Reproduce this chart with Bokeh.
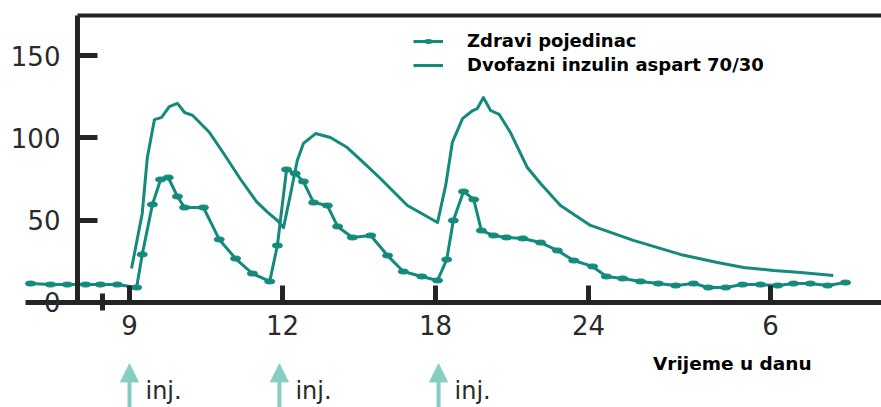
from bokeh.plotting import figure
from bokeh.models import (LinearAxis, FixedTicker, Range1d, Legend, LegendItem,
                          Arrow, NormalHead, Label)
from bokeh.embed import file_html
from bokeh.resources import INLINE

# ---- data (x = position along the drawn time axis, y = plasma insulin level) ----
healthy_x = [7.06, 7.45, 7.78, 8.14, 8.43, 8.76, 9.14,
             9.25, 9.45, 9.61, 9.76, 9.94, 10.08, 10.45, 10.76, 11.08, 11.41, 11.75,
             11.90, 12.08, 12.25, 12.41, 12.61, 12.88, 13.08, 13.37, 13.73, 14.06, 14.37, 14.73, 15.04,
             15.22, 15.35, 15.55, 15.75, 15.90, 16.14, 16.39, 16.71, 17.06, 17.39, 17.71, 18.08,
             18.35, 18.67, 19.02, 19.37, 19.71, 20.06, 20.35, 20.69, 21.02, 21.37, 21.71, 22.02,
             22.35, 22.69, 23.04]
healthy_y = [11.5, 10.9, 10.9, 10.9, 10.9, 10.9, 9.1,
             29.2, 59.5, 74.7, 75.9, 64.4, 57.7, 57.7, 38.3, 26.7, 17.6, 12.8,
             34.6, 80.8, 78.3, 73.5, 60.7, 58.9, 46.2, 39.5, 40.7, 28.5, 18.8, 15.8, 13.4,
             26.1, 49.8, 67.4, 62.6, 43.7, 40.7, 39.5, 38.9, 36.4, 31.6, 25.5, 21.9,
             15.8, 14.6, 12.8, 11.5, 10.3, 11.5, 9.1, 9.1, 10.9, 10.9, 10.3, 11.5,
             11.5, 10.3, 12.1]

insulin_x = [9.04, 9.25, 9.35, 9.49, 9.63, 9.78, 9.94, 10.08, 10.24, 10.57, 10.86, 11.18,
             11.49, 11.71, 11.90, 12.02, 12.16, 12.29, 12.41, 12.65, 12.94, 13.27, 13.59,
             13.92, 14.45, 15.04, 15.20, 15.33, 15.53, 15.73, 15.82, 15.94, 16.08, 16.25,
             16.47, 16.80, 17.06, 17.45, 18.04, 18.88, 19.80, 20.53, 21.04, 21.63, 22.16, 22.80]
insulin_y = [20.6, 54.1, 88.1, 111.1, 112.4, 119.0, 120.9, 115.4, 113.6, 103.2, 89.9, 74.7,
             61.3, 54.7, 49.8, 45.5, 66.2, 86.2, 96.6, 102.6, 100.2, 94.1, 85.0,
             75.3, 58.9, 48.6, 71.1, 97.2, 111.7, 116.6, 117.8, 124.5, 116.6, 114.2,
             103.2, 82.0, 72.3, 58.9, 46.8, 37.7, 29.2, 24.3, 21.3, 19.4, 18.2, 16.4]

tick_pos = [9, 12, 15, 18, 21.57]
tick_labels = ["9", "12", "18", "24", "6"]
minor_tick_pos = [8.47]
y_ticks = [0, 50, 100, 150]
inj_pos = [9.0, 11.94, 15.06]

series_labels = ["Zdravi pojedinac", "Dvofazni inzulin aspart 70/30"]
x_title = "Vrijeme u danu"
inj_text = "inj."

# ---- styling / layout ----
TEAL = "#138a7b"
ARROW_C = "#88cdc2"
AX = "#242424"
X0, X1 = 6.471, 23.745      # whole canvas is the frame
Y0, Y1 = -63.77, 183.41
XAXIS_START = 6.961         # where the x-axis line begins
YAXIS_AT = 7.98             # where the y-axis line sits
TOP_AT = 174.3              # top border line

p = figure(width=881, height=407, output_backend="svg", toolbar_location=None,
           x_range=Range1d(X0, X1), y_range=Range1d(Y0, Y1),
           x_axis_location=None, y_axis_location=None,
           min_border_left=0, min_border_right=0, min_border_top=0, min_border_bottom=0)
p.grid.visible = False
p.outline_line_color = None
p.background_fill_color = "white"
p.border_fill_color = "white"

def style_axis(ax, lw=5):
    ax.axis_line_width = lw
    ax.axis_line_color = AX
    ax.major_tick_line_width = 5
    ax.major_tick_line_color = AX
    ax.minor_tick_line_width = 5
    ax.minor_tick_line_color = AX
    ax.major_label_text_font = "DejaVu Sans"
    ax.major_label_text_font_size = "26px"
    ax.major_label_text_color = "#2a2a2a"

xaxis = LinearAxis(fixed_location=0, bounds=(XAXIS_START, X1),
                   ticker=FixedTicker(ticks=tick_pos, minor_ticks=minor_tick_pos),
                   major_label_overrides={t: l for t, l in zip(tick_pos, tick_labels)})
style_axis(xaxis)
xaxis.major_tick_in = 17
xaxis.major_tick_out = 0
xaxis.minor_tick_in = 9
xaxis.minor_tick_out = 8
xaxis.major_label_standoff = 5
p.add_layout(xaxis, "below")

yaxis = LinearAxis(fixed_location=YAXIS_AT, bounds=(0, TOP_AT),
                   ticker=FixedTicker(ticks=y_ticks, minor_ticks=[]))
style_axis(yaxis)
yaxis.major_tick_in = 20
yaxis.major_tick_out = 0
yaxis.minor_tick_in = 0
yaxis.minor_tick_out = 0
yaxis.major_label_standoff = 17
p.add_layout(yaxis, "left")

top = LinearAxis(fixed_location=TOP_AT, bounds=(YAXIS_AT, X1),
                 ticker=FixedTicker(ticks=[], minor_ticks=[]))
style_axis(top, lw=4)
top.major_tick_in = 0
top.major_tick_out = 0
top.minor_tick_in = 0
top.minor_tick_out = 0
p.add_layout(top, "above")

il = p.line(insulin_x, insulin_y, line_width=3, line_color=TEAL, line_join="round")
hl = p.line(healthy_x, healthy_y, line_width=3, line_color=TEAL, line_join="round")
hm = p.ellipse(x=healthy_x, y=healthy_y, width=10, height=5,
               width_units="screen", height_units="screen",
               fill_color=TEAL, line_color=TEAL)

legend = Legend(items=[LegendItem(label=series_labels[0], renderers=[hl, hm]),
                       LegendItem(label=series_labels[1], renderers=[il])],
                location=(413, 332), glyph_width=30, glyph_height=10, label_standoff=24,
                label_height=21, spacing=3, padding=0, margin=0,
                label_text_font="DejaVu Sans", label_text_font_style="bold",
                label_text_font_size="18px", label_text_color="black",
                background_fill_alpha=0, border_line_alpha=0)
p.add_layout(legend)

for xp in inj_pos:
    p.add_layout(Arrow(end=NormalHead(size=18, fill_color=ARROW_C, line_color=ARROW_C, line_width=1),
                       x_start=xp, y_start=-63.5, x_end=xp, y_end=-37.3,
                       line_color=ARROW_C, line_width=4))
    p.add_layout(Label(x=xp, y=-54.0, x_offset=16, text=inj_text,
                       text_font="DejaVu Sans", text_font_size="24px",
                       text_color="#2a2a2a", text_baseline="alphabetic"))

p.add_layout(Label(x=20.82, y=-37, text=x_title, text_align="center", text_baseline="middle",
                   text_font="DejaVu Sans", text_font_style="bold", text_font_size="18.5px",
                   text_color="black"))

open("out.html", "w").write(file_html(p, INLINE))
